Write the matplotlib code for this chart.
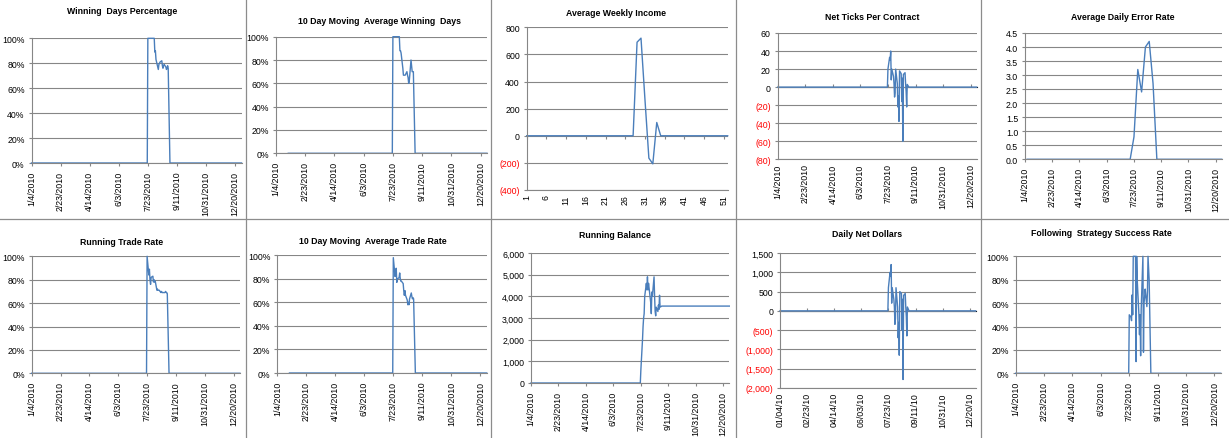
import pandas as pd
import matplotlib
matplotlib.use("Agg")
import matplotlib.pyplot as plt
from matplotlib.ticker import FixedLocator, NullFormatter
from matplotlib.lines import Line2D

plt.rcParams["font.family"] = ["Liberation Sans", "DejaVu Sans"]

W, H = 1229, 439
LINE = "#4A7EBB"
GRID = "#868686"

# ---- data -------------------------------------------------------------
year_start = "2010-01-04"
year_end = "2010-12-31"
window_start = "2010-07-23"        # first trading day with values
ma_first = "2010-01-25"            # moving averages begin here
date_tick_start = "2010-01-04"
date_tick_step_days = 50

# daily values from 7/23 through 8/30 (business days)
winning_days = [100, 100, 100, 100, 100, 100, 100, 100, 89, 90, 83, 77, 75,
                79, 80, 81, 82, 78, 76, 78, 79, 77, 75, 76, 78, 76, 0]
ma_winning_days = [100, 100, 100, 100, 100, 100, 100, 100, 88, 88, 86, 73, 67,
                   67, 67, 67, 70, 67, 65, 60, 62, 80, 75, 70, 70, 70, 0]
net_ticks = [20, 33, 30, 40, 8, 20, 12, 4, -11, -6, 20, 4, -22, -10, -38, 18,
             15, -16, 10, -60, 14, 16, 4, -5, -22, 3, 0]
running_trade_rate = [100, 84, 89, 80, 76, 82, 83, 78, 80, 78, 79, 71, 72, 71,
                      71, 71, 69, 70, 69, 69, 69, 69, 70, 69, 69, 68, 0]
ma_trade_rate = [98, 82, 86, 89, 77, 80, 81, 85, 80, 78, 78, 76, 70, 66, 70,
                 66, 62, 58, 60, 58, 63, 68, 65, 63, 64, 63, 0]
running_balance = [600, 2000, 2600, 3000, 3200, 4000, 4600, 4300, 4900, 4300,
                   4600, 3900, 3700, 3200, 4200, 4000, 4900, 4000, 3300, 3100,
                   3500, 3300, 3600, 3400, 4050, 3500, 3550]
balance_after = 3550
daily_net_dollars = [600, 1000, 900, 1200, 200, 600, 300, 100, -350, -200, 600,
                     100, -700, -300, -1150, 500, 450, -500, 300, -1780, 400,
                     450, 100, -150, -650, 100, 0]
strategy_success = [50, 48, 45, 67, 50, 100, 100, 100, 10, 100, 80, 50, 33, 50,
                    15, 55, 100, 18, 60, 65, 72, 57, 70, 100, 90, 80, 0]

# weekly (Fridays) error rate from 7/16
error_start = "2010-07-16"
error_rate = [0, 0.8, 3.2, 2.4, 4.0, 4.2, 2.7, 0]

# weekly income, weeks 1..52
weeks = list(range(1, 53))
weekly_income = ([0] * 28 + [690, 720, 270, -165, -207, 98] + [0] * 18)
week_ticks = [1, 6, 11, 16, 21, 26, 31, 36, 41, 46, 51]


def daily_series(active, first=year_start, after=0):
    days = pd.bdate_range(first, year_end)
    vals = pd.Series(0.0, index=days)
    idx = pd.bdate_range(window_start, periods=len(active))
    vals[days > idx[-1]] = after
    vals[idx] = active
    return days, vals.values


def weekly_series(active):
    days = pd.date_range("2010-01-08", year_end, freq="W-FRI")
    vals = pd.Series(0.0, index=days)
    idx = pd.date_range(error_start, periods=len(active), freq="W-FRI")
    vals[idx] = active
    return days, vals.values


date_ticks = pd.date_range(date_tick_start, periods=8,
                           freq=f"{date_tick_step_days}D")

fig = plt.figure(figsize=(W / 100, H / 100), dpi=100)


def make_ax(box):
    x0, y0, x1, y1 = box
    return fig.add_axes([x0 / W, 1 - y1 / H, (x1 - x0) / W, (y1 - y0) / H])


def style(ax, title, tpos, yticks, ylabels):
    ax.set_ylim(yticks[0], yticks[-1])
    ax.set_yticks(yticks)
    ax.set_yticklabels(ylabels)
    for lab, v in zip(ax.get_yticklabels(), yticks):
        lab.set_color("#FF0000" if v < 0 else "#000000")
    ax.grid(axis="y", color=GRID, lw=0.8)
    ax.set_axisbelow(True)
    for s in ("top", "right"):
        ax.spines[s].set_visible(False)
    for s in ("left", "bottom"):
        ax.spines[s].set_color(GRID)
        ax.spines[s].set_linewidth(0.8)
    ax.tick_params(axis="y", length=2.5, width=0.8, color=GRID, pad=2.5,
                   labelsize=6.3)
    ax.tick_params(axis="x", length=2.5, width=0.8, color=GRID, pad=3,
                   labelsize=6.3, labelrotation=90)
    fig.text(tpos[0] / W, 1 - tpos[1] / H, title, ha="center", va="center",
             fontsize=6.3, fontweight="bold")


def zero_ticks(ax):
    # Excel puts the tick marks on the zero line, labels stay at the bottom
    ticks = list(ax.get_xticks())
    lo, hi = ax.get_ylim()
    sec = ax.secondary_xaxis((0 - lo) / (hi - lo))
    sec.xaxis.set_major_locator(FixedLocator(ticks))
    sec.xaxis.set_major_formatter(NullFormatter())
    sec.xaxis.set_minor_locator(FixedLocator([]))
    sec.spines["bottom"].set_visible(False)
    sec.tick_params(length=2.5, width=0.8, color=GRID)
    ax.tick_params(axis="x", length=0)


def date_axis(ax, short=False):
    ax.set_xlim(pd.Timestamp(year_start), pd.Timestamp(year_end))
    ax.set_xticks(date_ticks)
    if short:
        labels = [d.strftime("%m/%d/%y") for d in date_ticks]
    else:
        labels = [f"{d.month}/{d.day}/{d.year}" for d in date_ticks]
    ax.set_xticklabels(labels)


pct_ticks = [0, 20, 40, 60, 80, 100]
pct_labels = [f"{v}%" for v in pct_ticks]


def money(v):
    s = f"{abs(v):,}"
    return f"({s})" if v < 0 else s


# ---- row 1 -------------------------------------------------------------
ax = make_ax((31.5, 39.3, 241.5, 164))
x, y = daily_series(winning_days)
ax.plot(x, y, color=LINE, lw=1.0, clip_on=False)
style(ax, "Winning  Days Percentage", (122, 12), pct_ticks, pct_labels)
date_axis(ax)

ax = make_ax((276, 37.7, 487, 154.3))
x, y = daily_series(ma_winning_days, first=ma_first)
ax.plot(x, y, color=LINE, lw=1.0, clip_on=False)
style(ax, "10 Day Moving  Average Winning  Days", (379, 22), pct_ticks,
      pct_labels)
date_axis(ax)

ax = make_ax((526.7, 28.3, 727.7, 191))
ax.plot(weeks, weekly_income, color=LINE, lw=1.0, clip_on=False)
inc_ticks = [-400, -200, 0, 200, 400, 600, 800]
style(ax, "Average Weekly Income", (616, 13), inc_ticks,
      [money(v) for v in inc_ticks])
ax.set_xlim(1, 52)
ax.set_xticks(week_ticks)
ax.set_xticklabels([str(w) for w in week_ticks])
zero_ticks(ax)

ax = make_ax((777.7, 34, 976.7, 160.3))
x, y = daily_series(net_ticks)
ax.plot(x, y, color=LINE, lw=1.0, clip_on=False)
tick_ticks = [-80, -60, -40, -20, 0, 20, 40, 60]
style(ax, "Net Ticks Per Contract", (872, 18), tick_ticks,
      [money(v) for v in tick_ticks])
date_axis(ax)
zero_ticks(ax)

ax = make_ax((1025, 34, 1221.7, 160.3))
x, y = weekly_series(error_rate)
ax.plot(x, y, color=LINE, lw=1.0, clip_on=False)
err_ticks = [0, 0.5, 1.0, 1.5, 2.0, 2.5, 3.0, 3.5, 4.0, 4.5]
style(ax, "Average Daily Error Rate", (1122.5, 18), err_ticks,
      [f"{v:.1f}" for v in err_ticks])
date_axis(ax)

# ---- row 2 -------------------------------------------------------------
ax = make_ax((31.7, 257.3, 240, 374.3))
x, y = daily_series(running_trade_rate)
ax.plot(x, y, color=LINE, lw=1.0, clip_on=False)
style(ax, "Running Trade Rate", (122, 243), pct_ticks, pct_labels)
date_axis(ax)

ax = make_ax((277.3, 256.3, 486.7, 374))
x, y = daily_series(ma_trade_rate, first=ma_first)
ax.plot(x, y, color=LINE, lw=1.0, clip_on=False)
style(ax, "10 Day Moving  Average Trade Rate", (373, 241.7), pct_ticks,
      pct_labels)
date_axis(ax)

ax = make_ax((531, 254, 729.3, 384))
x, y = daily_series(running_balance, after=balance_after)
ax.plot(x, y, color=LINE, lw=1.0, clip_on=False)
bal_ticks = [0, 1000, 2000, 3000, 4000, 5000, 6000]
style(ax, "Running Balance", (615, 235.7), bal_ticks,
      [money(v) for v in bal_ticks])
date_axis(ax)

ax = make_ax((780, 254, 975.7, 389))
x, y = daily_series(daily_net_dollars)
ax.plot(x, y, color=LINE, lw=1.0, clip_on=False)
dol_ticks = [-2000, -1500, -1000, -500, 0, 500, 1000, 1500]
style(ax, "Daily Net Dollars", (867, 234.7), dol_ticks,
      [money(v) for v in dol_ticks])
date_axis(ax, short=True)
zero_ticks(ax)

ax = make_ax((1015.7, 257.3, 1220.7, 374.3))
x, y = daily_series(strategy_success)
ax.plot(x, y, color=LINE, lw=1.0, clip_on=False)
style(ax, "Following  Strategy Success Rate", (1101, 234), pct_ticks,
      pct_labels)
date_axis(ax)

# chart borders
for bx in (245.5, 491, 736, 981):
    fig.add_artist(Line2D([bx / W, bx / W], [0, 1], color="#8C8C8C", lw=0.9))
fig.add_artist(Line2D([0, 1], [1 - 219.5 / H, 1 - 219.5 / H],
                      color="#8C8C8C", lw=0.9))

fig.savefig("out.png", dpi=100)
